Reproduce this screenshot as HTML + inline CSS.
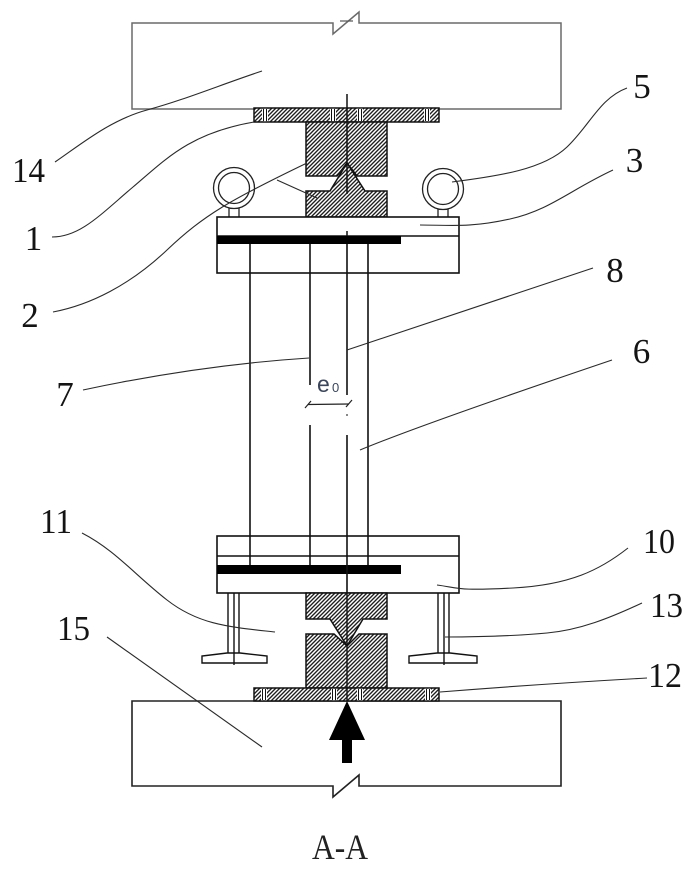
<!DOCTYPE html>
<html>
<head>
<meta charset="utf-8">
<style>
  html, body { margin: 0; padding: 0; background: #ffffff; }
  body { width: 693px; height: 869px; overflow: hidden; }
  svg { display: block; }
  .lbl { font-family: "Liberation Serif", serif; font-size: 35px; fill: #141414; }
</style>
</head>
<body>
<svg width="693" height="869" viewBox="0 0 693 869" xmlns="http://www.w3.org/2000/svg">
  <defs>
    <pattern id="h" patternUnits="userSpaceOnUse" width="4" height="4">
      <rect width="4" height="4" fill="#ffffff"/>
      <path d="M-1,1 l2,-2 M0,4 l4,-4 M3,5 l2,-2" stroke="#1e1e1e" stroke-width="1.35"/>
    </pattern>
  </defs>

  <!-- Top block (14) -->
  <path d="M132,109 L132,23 L333,23 L333,34 L359,12 L359,23 L561,23 L561,109 Z" fill="none" stroke="#6a6a6a" stroke-width="1.5"/>
  <line x1="340" y1="21" x2="353" y2="21" stroke="#555" stroke-width="1.2"/>

  <!-- Bottom block (15) -->
  <path d="M132,701 L561,701 L561,786 L359,786 L359,775 L333,797 L333,786 L132,786 Z" fill="none" stroke="#222" stroke-width="1.6"/>

  <!-- Top plate (1) -->
  <rect x="254" y="108" width="185" height="14" fill="url(#h)" stroke="#111" stroke-width="1.5"/>
  <g stroke="#111" stroke-width="1">
    <rect x="262" y="108.8" width="6" height="12.4" fill="#fff" stroke="none"/>
    <line x1="263.5" y1="109" x2="263.5" y2="121"/><line x1="266.5" y1="109" x2="266.5" y2="121"/>
    <rect x="330" y="108.8" width="6" height="12.4" fill="#fff" stroke="none"/>
    <line x1="331.5" y1="109" x2="331.5" y2="121"/><line x1="334.5" y1="109" x2="334.5" y2="121"/>
    <rect x="357" y="108.8" width="6" height="12.4" fill="#fff" stroke="none"/>
    <line x1="358.5" y1="109" x2="358.5" y2="121"/><line x1="361.5" y1="109" x2="361.5" y2="121"/>
    <rect x="424" y="108.8" width="6" height="12.4" fill="#fff" stroke="none"/>
    <line x1="425.5" y1="109" x2="425.5" y2="121"/><line x1="428.5" y1="109" x2="428.5" y2="121"/>
  </g>

  <!-- Upper knife-edge blocks (2) -->
  <path d="M306,122 L387,122 L387,176 L357,176 L347,163 L337,176 L306,176 Z" fill="url(#h)" stroke="#111" stroke-width="1.5"/>
  <path d="M306,191 L330,191 L347,163 L365,191 L387,191 L387,217 L306,217 Z" fill="url(#h)" stroke="#111" stroke-width="1.5"/>

  <!-- center line top -->
  <line x1="347" y1="94" x2="347" y2="194" stroke="#111" stroke-width="1.5"/>

  <!-- Rings (5) -->
  <g fill="none" stroke="#222" stroke-width="1.3">
    <circle cx="234" cy="188" r="20.5"/>
    <circle cx="234" cy="188" r="15.5"/>
    <line x1="229" y1="208" x2="229" y2="217"/>
    <line x1="239" y1="208" x2="239" y2="217"/>
    <circle cx="443" cy="189" r="20.5"/>
    <circle cx="443" cy="189" r="15.5"/>
    <line x1="438" y1="209" x2="438" y2="217"/>
    <line x1="448" y1="209" x2="448" y2="217"/>
  </g>

  <!-- Top end plate (3) -->
  <rect x="217" y="217" width="242" height="56" fill="#fff" stroke="#111" stroke-width="1.6"/>
  <line x1="217" y1="236" x2="459" y2="236" stroke="#111" stroke-width="1.5"/>
  <rect x="217" y="236" width="184" height="8" fill="#000"/>
  <line x1="347" y1="231" x2="347" y2="236" stroke="#111" stroke-width="1.5"/>

  <!-- Bottom end plate (10) -->
  <rect x="217" y="536" width="242" height="57" fill="#fff" stroke="#111" stroke-width="1.6"/>
  <line x1="217" y1="556" x2="459" y2="556" stroke="#111" stroke-width="1.5"/>
  <rect x="217" y="565" width="184" height="9" fill="#000"/>

  <!-- Column lines -->
  <g stroke="#111" stroke-width="1.6">
    <line x1="250" y1="244" x2="250" y2="565"/>
    <line x1="310" y1="244" x2="310" y2="385"/>
    <line x1="310" y1="425" x2="310" y2="565"/>
    <line x1="368" y1="244" x2="368" y2="565"/>
    <line x1="347" y1="244" x2="347" y2="395"/>
    <line x1="347" y1="435" x2="347" y2="593"/>
  </g>

  <!-- e0 dimension -->
  <g stroke="#222" stroke-width="1.2">
    <line x1="308" y1="404.5" x2="349" y2="404"/>
    <line x1="305" y1="408" x2="311" y2="401"/>
    <line x1="346" y1="407" x2="352" y2="400"/>
  </g>
  <circle cx="347" cy="415" r="0.9" fill="#333"/>
  <text x="317" y="392" font-family="Liberation Sans, sans-serif" font-size="23" fill="#3c4658">e</text>
  <text x="332" y="392" font-family="Liberation Sans, sans-serif" font-size="13" fill="#3c4658">0</text>

  <!-- Lower knife-edge blocks -->
  <path d="M306,593 L387,593 L387,619 L363,619 L347,646 L330,619 L306,619 Z" fill="url(#h)" stroke="#111" stroke-width="1.5"/>
  <path d="M306,634 L334,634 L347,646 L359,634 L387,634 L387,688 L306,688 Z" fill="url(#h)" stroke="#111" stroke-width="1.5"/>

  <!-- Bottom plate (12) -->
  <rect x="254" y="688" width="185" height="13" fill="url(#h)" stroke="#111" stroke-width="1.5"/>
  <g stroke="#111" stroke-width="1">
    <rect x="261" y="688.8" width="6" height="11.4" fill="#fff" stroke="none"/>
    <line x1="262.5" y1="689" x2="262.5" y2="700"/><line x1="265.5" y1="689" x2="265.5" y2="700"/>
    <rect x="331" y="688.8" width="6" height="11.4" fill="#fff" stroke="none"/>
    <line x1="332.5" y1="689" x2="332.5" y2="700"/><line x1="335.5" y1="689" x2="335.5" y2="700"/>
    <rect x="357" y="688.8" width="6" height="11.4" fill="#fff" stroke="none"/>
    <line x1="358.5" y1="689" x2="358.5" y2="700"/><line x1="361.5" y1="689" x2="361.5" y2="700"/>
    <rect x="425" y="688.8" width="6" height="11.4" fill="#fff" stroke="none"/>
    <line x1="426.5" y1="689" x2="426.5" y2="700"/><line x1="429.5" y1="689" x2="429.5" y2="700"/>
  </g>
  <line x1="347" y1="593" x2="347" y2="701" stroke="#111" stroke-width="1.4"/>

  <!-- Supports (11/13) -->
  <g fill="#fff" stroke="#111" stroke-width="1.4">
    <line x1="228" y1="593" x2="228" y2="653"/>
    <line x1="239" y1="593" x2="239" y2="653"/>
    <path d="M202,663 L202,656 L227,653 L240,653 L267,656 L267,663 Z"/>
    <line x1="234" y1="593" x2="234" y2="665"/>
    <line x1="438" y1="593" x2="438" y2="653"/>
    <line x1="449" y1="593" x2="449" y2="653"/>
    <path d="M409,663 L409,656 L437,653 L450,653 L477,656 L477,663 Z"/>
    <line x1="444" y1="593" x2="444" y2="665"/>
  </g>

  <!-- Arrow -->
  <polygon points="347,701 365,740 329,740" fill="#000"/>
  <rect x="342" y="739" width="10" height="24" fill="#000"/>

  <!-- Leader lines -->
  <g fill="none" stroke="#2a2a2a" stroke-width="1.1">
    <path d="M55,162 C80,145 110,120 147,110 S220,85 262,71"/>
    <path d="M52,237 C80,237 100,215 133,187 S190,133 254,122"/>
    <path d="M53,312 C90,305 130,285 167,250 S230,200 307,163"/>
    <line x1="277" y1="180" x2="317" y2="198"/>
    <path d="M83,390 Q200,365 309,358"/>
    <path d="M627,88 C600,98 590,125 567,147 S500,176 452,182"/>
    <path d="M613,170 C570,190 550,210 510,219 S450,225 420,225"/>
    <path d="M593,268 L347,350"/>
    <path d="M612,360 Q420,425 360,450"/>
    <path d="M82,533 C115,550 135,575 167,600 S230,627 275,632"/>
    <path d="M107,637 L262,747"/>
    <path d="M628,548 C600,570 570,585 513,588 S460,588 437,585"/>
    <path d="M642,603 C610,618 580,630 547,633 S480,637 445,637"/>
    <path d="M647,678 Q540,684 440,692"/>
  </g>

  <!-- Labels -->
  <text class="lbl" x="28.5" y="182" text-anchor="middle" textLength="33" lengthAdjust="spacingAndGlyphs">14</text>
  <text class="lbl" x="33.5" y="250" text-anchor="middle">1</text>
  <text class="lbl" x="30" y="327" text-anchor="middle">2</text>
  <text class="lbl" x="65" y="406" text-anchor="middle">7</text>
  <text class="lbl" x="56" y="533" text-anchor="middle" textLength="32" lengthAdjust="spacingAndGlyphs">11</text>
  <text class="lbl" x="73.5" y="640" text-anchor="middle" textLength="33" lengthAdjust="spacingAndGlyphs">15</text>
  <text class="lbl" x="642" y="98" text-anchor="middle">5</text>
  <text class="lbl" x="634.5" y="172" text-anchor="middle">3</text>
  <text class="lbl" x="615" y="282" text-anchor="middle">8</text>
  <text class="lbl" x="641.5" y="363" text-anchor="middle">6</text>
  <text class="lbl" x="659" y="553" text-anchor="middle" textLength="32" lengthAdjust="spacingAndGlyphs">10</text>
  <text class="lbl" x="666.5" y="617" text-anchor="middle" textLength="33" lengthAdjust="spacingAndGlyphs">13</text>
  <text class="lbl" x="665" y="687" text-anchor="middle" textLength="34" lengthAdjust="spacingAndGlyphs">12</text>
  <text x="340" y="859" text-anchor="middle" font-family="Liberation Serif, serif" font-size="36" fill="#222" textLength="56" lengthAdjust="spacingAndGlyphs">A-A</text>
</svg>
</body>
</html>
